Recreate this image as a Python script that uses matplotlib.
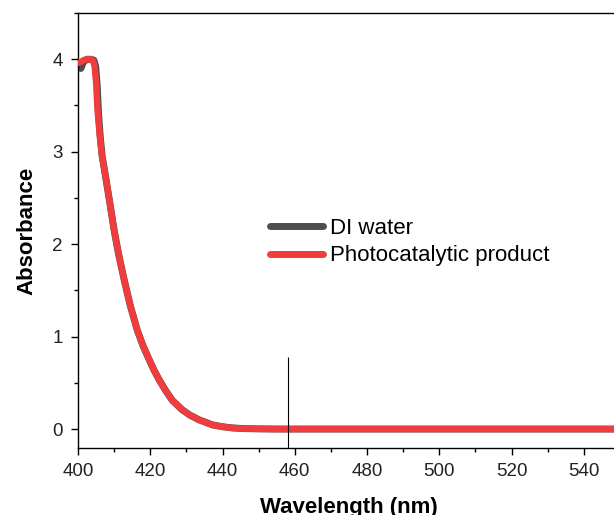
import matplotlib
matplotlib.use("Agg")
import matplotlib.pyplot as plt
from matplotlib.ticker import MultipleLocator

plt.rcParams['font.family'] = ['Liberation Sans', 'DejaVu Sans']

# UV-Vis absorbance spectra
wl_product = [400.0, 400.8, 401.5, 402.5, 403.5, 404.2, 404.6, 405.0, 405.4, 406.0,
              406.6, 407.8, 409.0, 410.0, 411.3, 412.8, 414.5, 416.4, 418.0, 419.7,
              421.0, 422.5, 424.2, 426.1, 428.8, 431.0, 433.5, 437.2, 440.0, 442.7,
              446.0, 450.0, 455.0, 460.0, 480.0, 500.0, 520.0, 540.0, 550.0]
abs_product = [3.96, 3.97, 3.99, 4.00, 4.00, 3.98, 3.92, 3.75, 3.45, 3.18,
               2.96, 2.69, 2.40, 2.15, 1.88, 1.61, 1.33, 1.07, 0.90, 0.75,
               0.64, 0.53, 0.42, 0.31, 0.21, 0.15, 0.10, 0.045, 0.025, 0.012,
               0.005, 0.002, 0.0, 0.0, 0.0, 0.0, 0.0, 0.0, 0.0]

wl_water = [400.0, 400.8, 401.5, 402.5, 403.5, 404.4, 404.9, 405.3, 405.7, 406.2,
            406.7, 407.8, 409.0, 410.0, 411.3, 412.8, 414.5, 416.4, 418.0, 419.7,
            421.0, 422.5, 424.2, 426.1, 428.8, 431.0, 433.5, 437.2, 440.0, 442.7,
            446.0, 450.0, 455.0, 460.0, 480.0, 500.0, 520.0, 540.0, 550.0]
abs_water = [3.93, 3.90, 3.97, 4.00, 4.00, 3.99, 3.92, 3.72, 3.40, 3.14,
             2.95, 2.69, 2.40, 2.15, 1.88, 1.61, 1.33, 1.07, 0.90, 0.75,
             0.64, 0.53, 0.42, 0.31, 0.21, 0.15, 0.10, 0.045, 0.025, 0.012,
             0.005, 0.002, 0.0, 0.0, 0.0, 0.0, 0.0, 0.0, 0.0]

series_labels = ["DI water", "Photocatalytic product"]
marker_wavelength = 458
marker_top = 0.78

fig = plt.figure(figsize=(6.14, 5.15), dpi=100)
ax = fig.add_axes([78 / 614, 67 / 515, 542 / 614, 435 / 515])

ax.plot(wl_water, abs_water, color='#4d4d4d', lw=5.0, label=series_labels[0],
        solid_capstyle='round', solid_joinstyle='round', zorder=2)
ax.plot(wl_product, abs_product, color='#f03c3c', lw=4.6, label=series_labels[1],
        solid_capstyle='round', solid_joinstyle='round', zorder=3)

ax.set_xlim(400, 550)
ax.set_ylim(-0.205, 4.5)
ax.vlines(marker_wavelength, -0.205, marker_top, color='black', lw=0.8, zorder=4)

ax.xaxis.set_major_locator(MultipleLocator(20))
ax.xaxis.set_minor_locator(MultipleLocator(10))
ax.yaxis.set_major_locator(MultipleLocator(1))
ax.yaxis.set_minor_locator(MultipleLocator(0.5))

ax.tick_params(which='major', direction='out', length=5, width=1.0,
               labelsize=13.5, colors='black', labelcolor='#222222')
ax.tick_params(which='minor', direction='out', length=3, width=1.0)
ax.tick_params(axis='x', pad=6)
ax.tick_params(axis='y', pad=6)

for side in ('left', 'bottom', 'top'):
    ax.spines[side].set_linewidth(1.0)
ax.spines['right'].set_visible(False)

ax.set_xlabel("Wavelength (nm)", fontsize=16, fontweight='bold', labelpad=12)
ax.set_ylabel("Absorbance", fontsize=16, fontweight='bold', labelpad=11)

leg = ax.legend(loc='center left', bbox_to_anchor=(0.354, 0.4736), frameon=False,
                fontsize=16, handlelength=2.4, handletextpad=0.3,
                labelspacing=0.3, borderpad=0, borderaxespad=0)
for line in leg.get_lines():
    line.set_linewidth(5)

fig.savefig("out.png", dpi=100)
